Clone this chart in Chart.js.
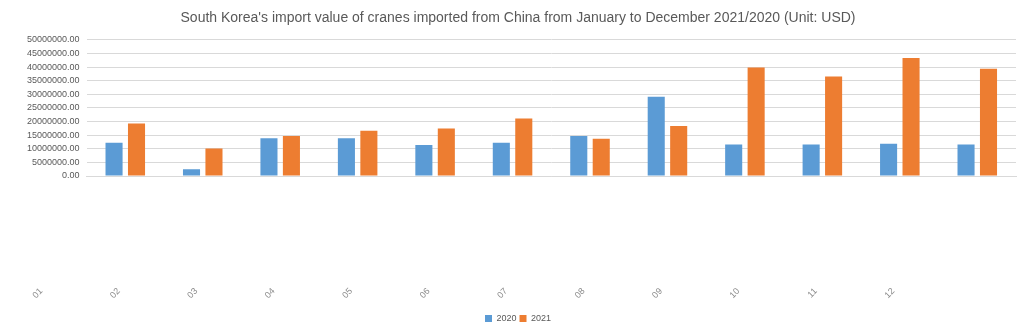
<!DOCTYPE html>
<html>
<head>
<meta charset="utf-8">
<script src="https://cdn.jsdelivr.net/npm/chart.js@4"></script>
<style>
  html, body { margin: 0; padding: 0; background: #fff; }
  #wrap { width: 1024px; height: 331px; }
</style>
</head>
<body>
<div id="wrap"><canvas id="importChart"></canvas></div>
<script>
// data (USD)
const months = ['01', '02', '03', '04', '05', '06', '07', '08', '09', '10', '11', '12'];
const values2020 = [12200000, 2450000, 13900000, 13900000, 11350000, 12200000, 14650000, 29050000, 11600000, 11600000, 11800000, 11600000];
const values2021 = [19300000, 10100000, 14650000, 16600000, 17450000, 21100000, 13700000, 18400000, 39800000, 36500000, 43300000, 39400000];
const seriesNames = ['2020', '2021'];

const textGray = '#595959';
const gridGray = '#d9d9d9';

const ctx = document.getElementById('importChart').getContext('2d');
const myChart = new Chart(ctx, {
    type: 'bar',
    data: {
        labels: months,
        datasets: [
            { label: seriesNames[0], data: values2020, backgroundColor: '#5b9bd5', categoryPercentage: 0.58, barPercentage: 0.76 },
            { label: seriesNames[1], data: values2021, backgroundColor: '#ed7d31', categoryPercentage: 0.58, barPercentage: 0.76 }
        ]
    },
    options: {
        responsive: true,
        maintainAspectRatio: false,
        animation: false,
        layout: { padding: { left: 20, right: 8, top: 0, bottom: -2 } },
        plugins: {
            title: {
                display: true,
                text: "South Korea's import value of cranes imported from China from January to December 2021/2020 (Unit: USD)",
                color: textGray,
                font: { family: 'Liberation Sans', size: 14, weight: 'normal' },
                padding: { top: 10, bottom: 13 }
            },
            legend: {
                position: 'bottom',
                labels: {
                    color: textGray,
                    font: { family: 'Liberation Sans', size: 9 },
                    boxWidth: 7,
                    boxHeight: 7,
                    padding: 3
                }
            },
            tooltip: { enabled: false }
        },
        scales: {
            x: {
                grid: { display: false, drawTicks: false },
                border: { color: gridGray },
                ticks: {
                    color: '#8c8c8c',
                    font: { family: 'Liberation Sans', size: 9 },
                    autoSkip: false,
                    minRotation: 45,
                    maxRotation: 45,
                    labelOffset: -84,
                    padding: 110
                },
                afterFit: s => {
                    // the axis sits far below, keep it from eating the plot width
                    s.paddingLeft = 0;
                    s.paddingRight = 0;
                    s.height = 135;
                }
            },
            y: {
                min: 0,
                max: 50000000,
                grid: { color: gridGray, drawTicks: false },
                border: { display: false },
                ticks: {
                    stepSize: 5000000,
                    autoSkip: false,
                    color: textGray,
                    font: { family: 'Liberation Sans', size: 9 },
                    padding: 7,
                    callback: v => v.toFixed(2)
                }
            }
        }
    }
});
</script>
</body>
</html>
